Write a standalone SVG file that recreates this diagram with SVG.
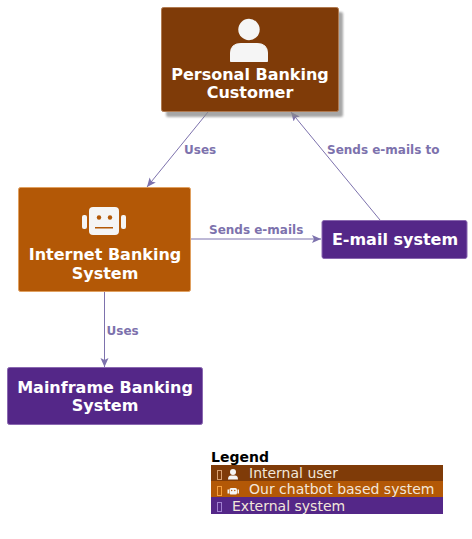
<svg xmlns="http://www.w3.org/2000/svg" width="472" height="539" viewBox="0 0 472 539">
<style>
text{font-family:"DejaVu Sans",sans-serif}
.n{font-size:16px;font-weight:700;fill:#fff;text-anchor:middle}
.l{font-size:12px;font-weight:700;fill:#7d72ad}
.c{fill:none;stroke:#7d72ad;stroke-width:1}
.lg{font-size:14px;fill:#f2e6da}
.t{fill:none;stroke-width:1}
</style>
<defs>
<marker id="a" markerUnits="userSpaceOnUse" markerWidth="11" markerHeight="9" refX="9" refY="4" orient="auto"><path d="M0 0L9 4L0 8L2 4Z" fill="#7d72ad"/></marker>
<filter id="s" x="-10%" y="-10%" width="120%" height="120%"><feGaussianBlur stdDeviation="1.2"/></filter>
</defs>
<g id="connectors">
<path class="c" d="M208 112L147 187" marker-end="url(#a)"/>
<path class="c" d="M380 220L291 112" marker-end="url(#a)"/>
<path class="c" d="M191 239L321 239" marker-end="url(#a)"/>
<path class="c" d="M104.500 292L104.500 367" marker-end="url(#a)"/>
<text class="l" x="184" y="154">Uses</text>
<text class="l" x="327" y="154">Sends e-mails to</text>
<text class="l" x="209" y="234">Sends e-mails</text>
<text class="l" x="106.500" y="335">Uses</text>
</g>
<g id="customer">
<rect x="166" y="12" width="177" height="105" rx="2" fill="#8a8a8a" opacity=".75" filter="url(#s)"/>
<rect x="161.500" y="7.500" width="177" height="104" rx="2" fill="#7f3b08" stroke="#b07a50"/>
<circle cx="249" cy="29.500" r="10.700" fill="#f5f5f5"/>
<path d="M230.500 61.500V53Q230.500 43.500 241 43.500H257Q267.500 43.500 267.500 53V61.500Z" fill="#f5f5f5" stroke="#f5f5f5" stroke-linejoin="round"/>
<text class="n" x="250" y="80">Personal Banking</text>
<text class="n" x="250" y="98">Customer</text>
</g>
<g id="internet-banking">
<rect x="18.500" y="187.500" width="172" height="104" rx="2" fill="#b35806" stroke="#e0a060"/>
<rect x="89" y="207" width="30" height="28" rx="4" fill="#f5f5f5"/>
<rect x="82" y="215" width="5" height="14" rx="2" fill="#f5f5f5"/>
<rect x="121" y="215" width="5" height="14" rx="2" fill="#f5f5f5"/>
<circle cx="99" cy="217.500" r="2.200" fill="#b35806"/>
<circle cx="110" cy="217.500" r="2.200" fill="#b35806"/>
<rect x="95" y="227" width="18" height="1.500" fill="#b35806"/>
<text class="n" x="105" y="260">Internet Banking</text>
<text class="n" x="105" y="279">System</text>
</g>
<g id="email-system">
<rect x="322" y="220.500" width="145" height="38" rx="2" fill="#542788" stroke="#8a68b0"/>
<text class="n" x="395" y="245">E-mail system</text>
</g>
<g id="mainframe">
<rect x="7.500" y="367.500" width="195" height="57" rx="2" fill="#542788" stroke="#8a68b0"/>
<text class="n" x="105" y="393">Mainframe Banking</text>
<text class="n" x="105" y="411">System</text>
</g>
<g id="legend">
<text x="211" y="462" font-size="14" font-weight="700" fill="#000">Legend</text>
<rect x="211" y="465" width="232" height="16" fill="#7f3b08"/>
<rect x="211" y="481" width="232" height="16" fill="#b35806"/>
<rect x="211" y="497" width="232" height="17" fill="#542788"/>
<rect class="t" x="217.500" y="470.500" width="4" height="9" stroke="#d9a070"/>
<rect class="t" x="217.500" y="486.500" width="4" height="9" stroke="#f5a040"/>
<rect class="t" x="217.500" y="502.500" width="4" height="9" stroke="#a080d0"/>
<circle cx="233" cy="472" r="3" fill="#f5f5f5"/>
<path d="M228 479.500Q228 475.500 231 475.500H235Q238 475.500 238 479.500Z" fill="#f5f5f5"/>
<rect x="229.500" y="488" width="7.500" height="6.500" rx="1.500" fill="#f5f5f5"/>
<rect x="227.500" y="489.500" width="1.500" height="4" fill="#f5f5f5"/>
<rect x="237.500" y="489.500" width="1.500" height="4" fill="#f5f5f5"/>
<circle cx="231.700" cy="490.500" r=".7" fill="#b35806"/>
<circle cx="234.800" cy="490.500" r=".7" fill="#b35806"/>
<text class="lg" x="249" y="478">Internal user</text>
<text class="lg" x="249" y="494">Our chatbot based system</text>
<text class="lg" x="232" y="511">External system</text>
</g>
</svg>
